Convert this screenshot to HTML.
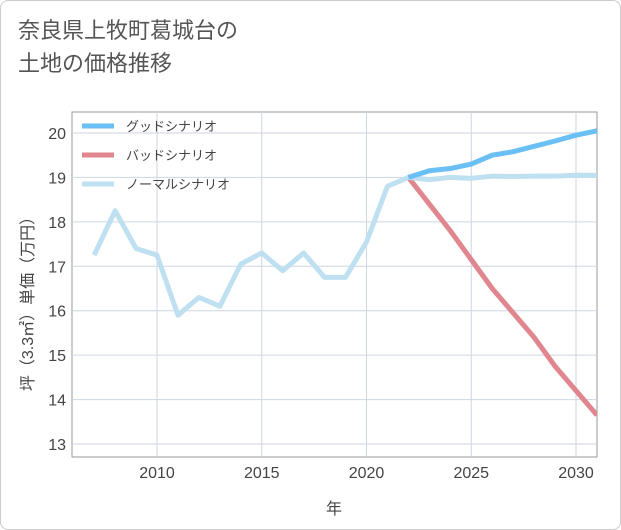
<!DOCTYPE html>
<html><head><meta charset="utf-8"><style>
body{margin:0;background:#fff;font-family:"Liberation Sans","Noto Sans CJK JP",sans-serif}
.card{position:absolute;left:0;top:0;width:619px;height:528px;border:1px solid #ccc;border-radius:8px;background:#fff}
.title{position:absolute;left:18px;top:14px;font-size:22px;line-height:33px;color:#555;font-family:"Liberation Sans","Noto Sans CJK JP",sans-serif}
svg{position:absolute;left:0;top:0}
text{font-family:"Liberation Sans","Noto Sans CJK JP",sans-serif}
</style></head><body>
<div class="card"></div>
<div class="title">奈良県上牧町葛城台の<br>土地の価格推移</div>
<svg id="c" width="621" height="530"></svg>
<script>
const years=[2007,2008,2009,2010,2011,2012,2013,2014,2015,2016,2017,2018,2019,2020,2021,2022,2023,2024,2025,2026,2027,2028,2029,2030,2031];
const normalVals=[17.25,18.25,17.4,17.25,15.9,16.3,16.1,17.05,17.3,16.9,17.3,16.75,16.75,17.55,18.8,19.0,18.95,19.0,18.98,19.03,19.02,19.03,19.03,19.05,19.05];
const futureYears=[2022,2023,2024,2025,2026,2027,2028,2029,2030,2031];
const goodVals=[19.0,19.15,19.2,19.3,19.5,19.58,19.7,19.82,19.95,20.05];
const badVals=[19.0,18.4,17.8,17.15,16.5,15.95,15.4,14.75,14.2,13.65];
const yTicks=[13,14,15,16,17,18,19,20];
const xTicks=[2010,2015,2020,2025,2030];
const L=72,R=597,T=112,B=457;
const x=v=>157+(v-2010)*(576-157)/20;
const y=v=>444-(v-13)*(444-133)/7;
const svg=document.getElementById('c');const NS='http://www.w3.org/2000/svg';
function mk(t,a,p){const e=document.createElementNS(NS,t);for(const k in a)e.setAttribute(k,a[k]);(p||svg).appendChild(e);return e;}
const bg=mk('rect',{x:L,y:T,width:R-L,height:B-T,fill:'#fff',stroke:'#999','stroke-width':1});


yTicks.forEach(v=>{const g=mk('line',{x1:L,x2:R,y1:y(v),y2:y(v),stroke:'#cdd6e0'});


const t=mk('text',{x:L-6,y:y(v)+6,'text-anchor':'end','font-size':16,fill:'#444'});t.textContent=v;

});
xTicks.forEach(v=>{const g=mk('line',{x1:x(v),x2:x(v),y1:T,y2:B,stroke:'#cdd6e0'});


const t=mk('text',{x:x(v),y:B+21,'text-anchor':'middle','font-size':16,fill:'#444'});t.textContent=v;

});
const clip=mk('clipPath',{id:'cl'});mk('rect',{x:L,y:T,width:R-L,height:B-T},clip);
function line(xs,vs,col,name){const p=mk('polyline',{points:xs.map((yr,i)=>x(yr)+','+y(vs[i])).join(' '),fill:'none',stroke:col,'stroke-width':5,'stroke-linejoin':'round','clip-path':'url(#cl)'});

}
line(futureYears,badVals,'#e0868e','bad-scenario-line');
line(years,normalVals,'#bfe0f0','normal-scenario-line');
line(futureYears,goodVals,'#6abff5','good-scenario-line');
const leg=[['グッドシナリオ','#6abff5',126],['バッドシナリオ','#e0868e',155],['ノーマルシナリオ','#bfe0f0',184]];
leg.forEach(l=>{const s=mk('line',{x1:82,x2:114,y1:l[2],y2:l[2],stroke:l[1],'stroke-width':5});


const t=mk('text',{x:126,y:l[2]+5,'font-size':13,fill:'#444'});t.textContent=l[0];

});
const xt=mk('text',{x:334,y:514,'text-anchor':'middle','font-size':16,fill:'#444'});xt.textContent='年';


const yt=mk('text',{x:0,y:0,'text-anchor':'middle','font-size':16,fill:'#444',transform:'translate(33,300) rotate(-90)'});yt.textContent='坪（3.3㎡）単価（万円）';


</script>
</body></html>
